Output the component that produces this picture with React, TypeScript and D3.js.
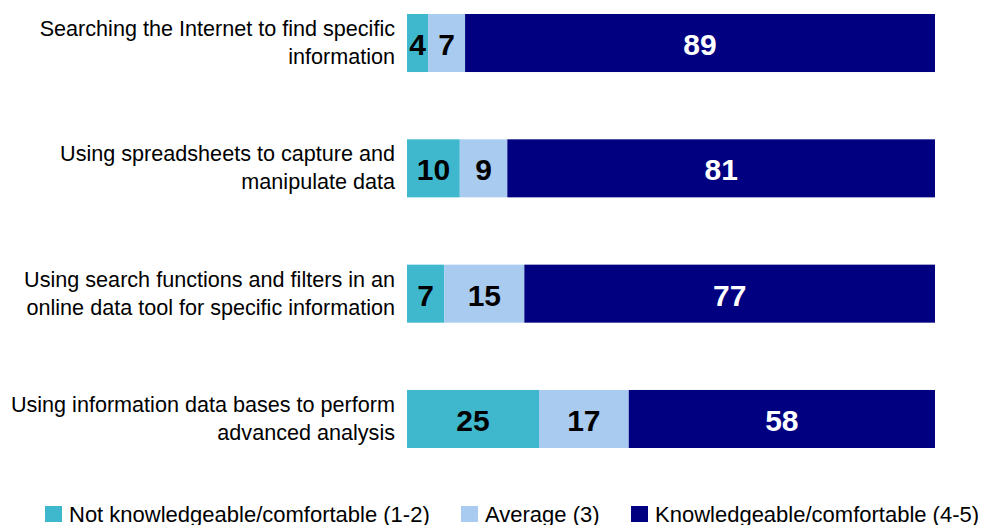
import * as d3 from 'd3';
import { useRef, useEffect } from 'react';

// --- Data ---
const categories = [
  'Searching the Internet to find specific\ninformation',
  'Using spreadsheets to capture and\nmanipulate data',
  'Using search functions and filters in an\nonline data tool for specific information',
  'Using information data bases to perform\nadvanced analysis',
];
const seriesNames = [
  'Not knowledgeable/comfortable (1-2)',
  'Average (3)',
  'Knowledgeable/comfortable (4-5)',
];
const notKnowledgeable = [4, 10, 7, 25];
const average = [7, 9, 15, 17];
const knowledgeable = [89, 81, 77, 58];

const colors = ['#3FB8CE', '#A9CBF0', '#000080'];
const labelColors = ['#000', '#000', '#fff'];

export default function App() {
  const ref = useRef<SVGSVGElement>(null);

  useEffect(() => {
    const width = 981;
    const height = 525;
    const fontFamily = "'Liberation Sans', Arial, sans-serif";

    const rows = categories.map((c, i) => ({
      category: c,
      values: [notKnowledgeable[i], average[i], knowledgeable[i]],
    }));

    // 100% stacked: each row spans the full width
    const x = d3.scaleLinear().domain([0, 1]).range([407, 935]);
    const y = d3.scaleBand()
      .domain(categories)
      .range([14, 448])
      .paddingInner(0.537)
      .paddingOuter(0);

    const svg = d3.select(ref.current)
      .attr('width', width)
      .attr('height', height)
      .attr('viewBox', `0 0 ${width} ${height}`)
      .style('font-family', fontFamily);

    svg.selectAll('*').remove();

    // stacked segments
    const segs = rows.flatMap(r => {
      const total = d3.sum(r.values);
      let acc = 0;
      return r.values.map((v, k) => {
        const s = { category: r.category, k, v, x0: acc / total, x1: (acc + v) / total };
        acc += v;
        return s;
      });
    });

    svg.append('g')
      .selectAll('rect')
      .data(segs)
      .join('rect')
        .attr('x', d => x(d.x0))
        .attr('y', d => y(d.category)!)
        .attr('width', d => x(d.x1) - x(d.x0))
        .attr('height', y.bandwidth())
        .attr('fill', d => colors[d.k]);

    svg.append('g')
      .selectAll('text')
      .data(segs)
      .join('text')
        .attr('x', d => (x(d.x0) + x(d.x1)) / 2)
        .attr('y', d => y(d.category)! + y.bandwidth() / 2 + 12)
        .attr('text-anchor', 'middle')
        .attr('font-weight', 'bold')
        .attr('font-size', 30)
        .attr('fill', d => labelColors[d.k])
        .text(d => d.v);

    // category labels
    const cat = svg.append('g')
      .selectAll('text')
      .data(categories)
      .join('text')
        .attr('text-anchor', 'end')
        .attr('font-size', 21.6)
        .attr('fill', '#000');
    cat.selectAll('tspan')
      .data(d => d.split('\n').map((line, i) => ({ line, i, d })))
      .join('tspan')
        .attr('x', 395)
        .attr('y', t => y(t.d)! + y.bandwidth() / 2 - 7 + t.i * 28)
        .text(t => t.line);

    // legend
    const legendX = [45, 461, 631];
    const leg = svg.append('g')
      .selectAll('g')
      .data(seriesNames)
      .join('g')
        .attr('transform', (d, i) => `translate(${legendX[i]},506)`);
    leg.append('rect')
      .attr('width', 17)
      .attr('height', 16)
      .attr('fill', (d, i) => colors[i]);
    leg.append('text')
      .attr('x', 24)
      .attr('y', 15.5)
      .attr('font-size', 22)
      .attr('fill', '#000')
      .text(d => d);
  }, []);

  return (
    <div>
      <svg ref={ref} style={{ position: 'absolute', left: 0, top: 0 }}></svg>
    </div>
  );
}
